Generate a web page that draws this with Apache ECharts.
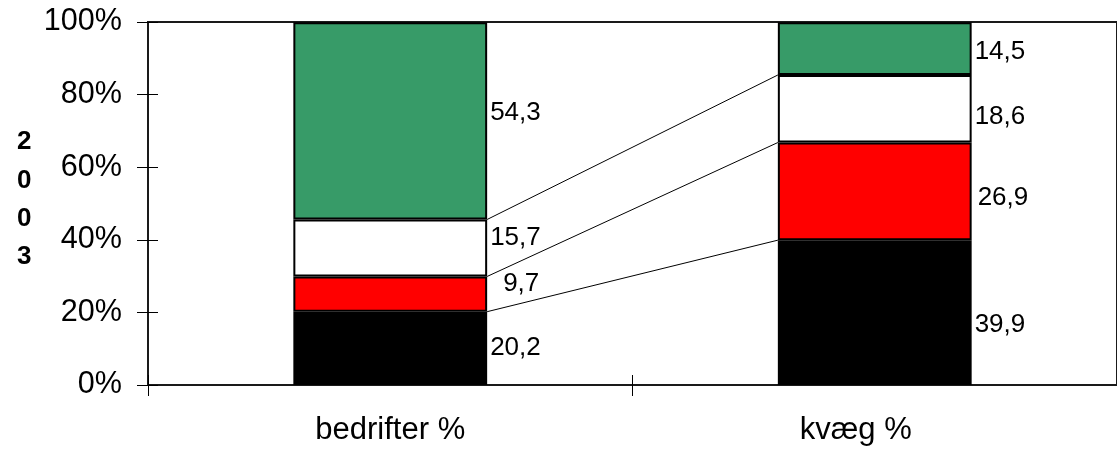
<!DOCTYPE html>
<html>
<head>
<meta charset="utf-8">
<script src="https://cdn.jsdelivr.net/npm/echarts@6/dist/echarts.min.js"></script>
<style>
html,body{margin:0;padding:0;background:#fff;}
#chart{width:1117px;height:454px;}
</style>
</head>
<body>
<div id="chart"></div>
<script>
// ---- data ----
const categories = ['bedrifter %', 'kvæg %'];
const blackVals = [20.2, 39.9];
const redVals = [9.7, 26.9];
const whiteVals = [15.7, 18.6];
const greenVals = [54.3, 14.5];
const yearTitle = '2003';

// ---- styling (label nudges, not data) ----
const FONT = '"Liberation Sans", Arial, sans-serif';
const labelNudge = {
  black: [[0, -1], [0, 12]],
  red: [[13, -10], [3, 6]],
  white: [[0, -10], [0, 8]],
  green: [[0, -8], [0, 3]]
};

const seriesDefs = [
  { key: 'black', name: 'sort', vals: blackVals, color: '#000000' },
  { key: 'red', name: 'rød', vals: redVals, color: '#ff0000' },
  { key: 'white', name: 'hvid', vals: whiteVals, color: '#ffffff' },
  { key: 'green', name: 'grøn', vals: greenVals, color: '#379b68' }
];

const fmt = v => String(v).replace('.', ',');

const barSeries = seriesDefs.map(d => ({
  type: 'bar',
  name: d.name,
  stack: 'total',
  barWidth: '40%',
  xAxisIndex: 0,
  yAxisIndex: 0,
  itemStyle: { color: d.color, borderColor: '#000', borderWidth: 2 },
  data: d.vals.map((v, i) => ({
    value: v,
    label: {
      show: true,
      position: 'right',
      distance: 3,
      offset: labelNudge[d.key][i],
      formatter: p => fmt(p.value),
      fontSize: 26,
      fontFamily: FONT,
      color: '#000'
    }
  }))
}));

// cumulative boundaries between segments (for connector lines)
const connectors = [];
let cumA = 0, cumB = 0;
for (let s = 0; s < seriesDefs.length - 1; s++) {
  cumA += seriesDefs[s].vals[0];
  cumB += seriesDefs[s].vals[1];
  connectors.push([0, +cumA.toFixed(1), +cumB.toFixed(1)]);
}

const connectorSeries = {
  type: 'custom',
  xAxisIndex: 0,
  yAxisIndex: 0,
  encode: { x: 0, y: [1, 2] },
  silent: true,
  z: 1,
  data: connectors,
  renderItem: (params, api) => {
    const band = api.size([1, 0])[0];
    const bw = band * 0.4;
    const p1 = api.coord([0, api.value(1)]);
    const p2 = api.coord([1, api.value(2)]);
    return {
      type: 'line',
      shape: { x1: p1[0] + bw / 2, y1: p1[1], x2: p2[0] - bw / 2, y2: p2[1] },
      style: { stroke: '#000', lineWidth: 1 }
    };
  }
};

const chart = echarts.init(document.getElementById('chart'), null, { renderer: 'canvas' });
chart.setOption({
  animation: false,
  backgroundColor: '#fff',
  title: {
    text: yearTitle.split('').join('\n'),
    left: 17,
    top: 123,
    padding: 0,
    textStyle: { fontSize: 26, fontWeight: 'bold', fontFamily: FONT, lineHeight: 38.3, color: '#000' }
  },
  grid: {
    left: 148, top: 22, bottom: 69, right: -3,
    show: true, borderColor: '#1a1a1a', borderWidth: 2, backgroundColor: 'transparent'
  },
  xAxis: [
    {
      type: 'category',
      data: categories,
      position: 'bottom',
      axisLine: { onZero: false, lineStyle: { color: '#1a1a1a', width: 2 } },
      axisTick: { show: true, length: 11, lineStyle: { color: '#000', width: 1 } },
      axisLabel: {
        margin: 30,
        fontSize: 31,
        fontFamily: FONT,
        color: '#000',
        formatter: (v, i) => i === 1 ? '{b|' + v + '}' : '{a|' + v + '}',
        rich: {
          a: { fontSize: 31, fontFamily: FONT, color: '#000' },
          b: { fontSize: 31, fontFamily: FONT, color: '#000', padding: [0, 38, 0, 0] }
        }
      }
    },
    {
      type: 'category',
      data: categories,
      position: 'bottom',
      axisLine: { show: false, onZero: false },
      axisTick: { show: true, inside: true, length: 10, lineStyle: { color: '#000', width: 1 } },
      axisLabel: { show: false }
    }
  ],
  yAxis: [
    {
      type: 'value',
      min: 0, max: 100, interval: 20,
      axisLine: { show: true, lineStyle: { color: '#1a1a1a', width: 2 } },
      axisTick: { show: true, length: 11, lineStyle: { color: '#000', width: 1 } },
      splitLine: { show: false },
      axisLabel: { margin: 26, fontSize: 30.6, fontFamily: FONT, color: '#000', formatter: '{value}%' }
    },
    {
      type: 'value',
      position: 'left',
      min: 0, max: 100, interval: 20,
      axisLine: { show: false },
      axisTick: { show: true, inside: true, length: 10, lineStyle: { color: '#000', width: 1 } },
      splitLine: { show: false },
      axisLabel: { show: false }
    }
  ],
  series: [connectorSeries, ...barSeries]
});
</script>
</body>
</html>
